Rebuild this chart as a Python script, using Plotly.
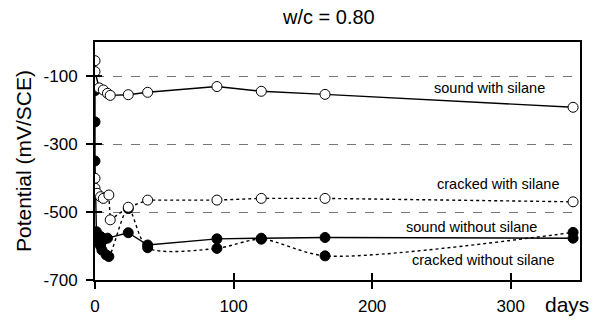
import plotly.graph_objects as go

# ---- data (days, mV/SCE) ----
sws_x = [0, 0, 3, 6, 9, 11, 24, 38, 88, 120, 166, 345]
sws_y = [-55, -87, -135, -141, -151, -157, -155, -148, -131, -145, -154, -192]

cws_x = [0, 0, 1.5, 4, 6, 10, 11, 24, 38, 88, 120, 166, 345]
cws_y = [-401, -430, -445, -455, -460, -450, -523, -486, -465, -465, -460, -460, -470]

swo_x = [0, 0, 0, 1, 4, 6, 9, 24, 38, 88, 120, 166, 345]
swo_y = [-143, -235, -350, -558, -572, -582, -577, -561, -597, -579, -577, -575, -577]

cwo_x = [2, 4, 5, 8, 10, 24, 38, 88, 120, 166, 345]
cwo_y = [-587, -600, -612, -626, -631, -490, -605, -607, -580, -629, -560]

x_ticks = [0, 100, 200, 300]
y_ticks = [-700, -500, -300, -100]
y_ticktext = ["-700", "-500", "-300", "-100"]

labels = ["sound with silane", "cracked with silane", "sound without silane", "cracked without silane"]
label_x = [285, 291, 272, 280]
label_y = [-136, -418, -543, -641]

FONT = "Liberation Sans, Arial, sans-serif"

fig = go.Figure()

filled = dict(size=10, color="black", line=dict(color="black", width=1))
hollow = dict(size=10, color="white", line=dict(color="black", width=1))

fig.add_trace(go.Scatter(x=cwo_x, y=cwo_y, mode="lines+markers",
                         line=dict(color="black", width=1.4, dash="dot", shape="spline", smoothing=0.8),
                         marker=filled, name=labels[3]))
fig.add_trace(go.Scatter(x=swo_x, y=swo_y, mode="lines+markers",
                         line=dict(color="black", width=1.4),
                         marker=filled, name=labels[2]))
fig.add_trace(go.Scatter(x=cws_x, y=cws_y, mode="lines+markers",
                         line=dict(color="black", width=1.4, dash="dot"),
                         marker=hollow, name=labels[1]))
fig.add_trace(go.Scatter(x=sws_x, y=sws_y, mode="lines+markers",
                         line=dict(color="black", width=1.4),
                         marker=hollow, name=labels[0]))

# invisible trace to activate overlay axes (inside half of crossing ticks)
fig.add_trace(go.Scatter(x=[0], y=[-700], xaxis="x2", yaxis="y2", mode="markers",
                         marker=dict(opacity=0), hoverinfo="skip", showlegend=False))

for t, xx, yy in zip(labels, label_x, label_y):
    fig.add_annotation(x=xx, y=yy, text=t, showarrow=False,
                       font=dict(family=FONT, size=14.5, color="black"))

fig.add_annotation(xref="paper", yref="paper", x=0.482, y=1.105,
                   xanchor="center", yanchor="middle", text="w/c = 0.80",
                   showarrow=False, font=dict(family=FONT, size=20, color="black"))
fig.add_annotation(xref="paper", yref="paper", x=0.973, y=-0.105,
                   xanchor="center", yanchor="middle", text="days",
                   showarrow=False, font=dict(family=FONT, size=21, color="black"))

axis_common = dict(showline=True, linecolor="black", linewidth=2, mirror=True,
                   zeroline=False, tickcolor="black", tickwidth=1.5, ticklen=7,
                   automargin=False)

fig.update_layout(
    width=600, height=329,
    margin=dict(l=95, r=20, t=42, b=49),
    paper_bgcolor="white", plot_bgcolor="white",
    showlegend=False,
    font=dict(family=FONT, color="black"),
    xaxis=dict(range=[0, 350], tickvals=x_ticks, ticks="outside", showgrid=False,
               tickfont=dict(size=17), ticklabelstandoff=3, **axis_common),
    yaxis=dict(range=[-700, 0], tickvals=y_ticks, ticktext=y_ticktext,
               ticks="outside", showgrid=True,
               gridcolor="#777777", griddash="dash", gridwidth=1,
               tickfont=dict(size=17), ticklabelstandoff=5,
               title=dict(text="Potential (mV/SCE)", font=dict(size=21), standoff=6),
               **axis_common),
    xaxis2=dict(range=[0, 350], tickvals=x_ticks, ticks="inside", overlaying="x",
                showticklabels=False, showgrid=False, zeroline=False,
                tickcolor="black", tickwidth=1.5, ticklen=7, showline=False),
    yaxis2=dict(range=[-700, 0], tickvals=y_ticks, ticks="inside", overlaying="y",
                showticklabels=False, showgrid=False, zeroline=False,
                tickcolor="black", tickwidth=1.5, ticklen=7, showline=False),
)

fig.write_html("out.html", config={"displayModeBar": False},
               post_script="document.body.style.margin='0';document.body.style.overflow='hidden';")
